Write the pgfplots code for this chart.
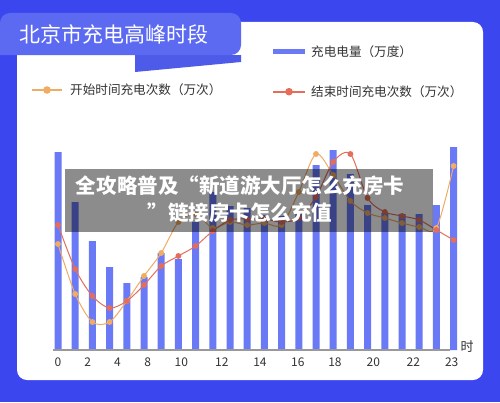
\documentclass[border=0pt]{standalone}
\usepackage{pgfplots}
\pgfplotsset{compat=1.18}
\usepackage{pgfplotstable}
\usepackage{fontspec}
\setmainfont{Noto Sans CJK SC}
\definecolor{bgblue}{RGB}{60,70,238}
\definecolor{tabblue}{RGB}{92,106,242}
\definecolor{tailblue}{RGB}{78,90,232}
\definecolor{barblue}{RGB}{106,122,246}
\definecolor{lorange}{RGB}{240,172,98}
\definecolor{lred}{RGB}{228,110,90}
\definecolor{txt}{RGB}{51,51,51}
\pgfplotstableread{
h bar start end
0 198 106 125
1 148 56 81
2 109 28 54
3 83 28 42
4 67 49 49
5 73 74 65
6 97 97 84
7 91 128 94
8 128 136 104
9 158 122 119
10 144 128 130
11 142 125 131
12 135 127 131
13 134 125 128
14 138 158 132
15 185 196 153
16 200 175 188
17 176 149 196
18 145 137 152
19 137 132 138
20 136 127 134
21 136 123 130
22 145 122 120
23 203 184 110
}\datatable
\begin{document}
\begin{tikzpicture}[x=1bp,y=1bp]
\fill[bgblue] (0,0) rectangle (500,402);
\useasboundingbox (0,0) rectangle (500,402);
% card
\fill[white, rounded corners=10bp] (17,22) rectangle (483,380);
% title tab
\fill[tailblue] (135,347) -- (135,330) -- (241,340) -- (241,347) -- cycle;
\fill[tabblue, rounded corners=10bp] (0,347) -- (241,347) -- (241,389) -- (0,389) [sharp corners] -- cycle;
\node[text=white, font=\fontsize{21bp}{25bp}\selectfont, anchor=west] at (16,368) {北京市充电高峰时段};
% legend
\draw[barblue, line width=5bp] (273,350.3) -- (305,350.3);
\node[anchor=west, text=txt, font=\fontsize{12.6bp}{15bp}\selectfont, inner sep=0] at (311,350.3) {充电电量（万度）};
\draw[lorange, line width=2bp] (32,312) -- (62,312);
\fill[lorange] (47,312) circle (3.8bp);
\node[anchor=west, text=txt, font=\fontsize{12.6bp}{15bp}\selectfont, inner sep=0] at (70,312) {开始时间充电次数（万次）};
\draw[lred, line width=2bp] (273,310.3) -- (305,310.3);
\fill[lred] (289,310.3) circle (3.8bp);
\node[anchor=west, text=txt, font=\fontsize{12.6bp}{15bp}\selectfont, inner sep=0] at (311,310.3) {结束时间充电次数（万次）};
\begin{axis}[
  at={(49.4bp,52bp)}, anchor=south west,
  scale only axis, width=412.8bp, height=220bp,
  xmin=-0.5, xmax=23.5, ymin=0, ymax=220,
  axis line style={draw=none},
  ytick=\empty,
  major tick length=0,
  xtick={0,1.73,3.45,5.22,7.17,9.52,11.74,13.94,16.10,18.33,20.66,22.89},
  xticklabels={0,2,4,8,10,12,14,16,18,20,22,23},
  xticklabel style={font=\fontsize{12bp}{14bp}\selectfont, text=txt, yshift=-4bp},
  /pgf/number format/assume math mode=true,
  clip=false,
]
\addplot[ybar, bar width=7bp, fill=barblue, draw=none] table[x=h, y=bar] {\datatable};
\draw[gray!80, line width=1.2bp] (axis cs:-0.3,0) -- (axis cs:22.8,0);
\addplot[lorange, line width=1bp, smooth, mark=*, mark size=2.4bp, mark options={fill=lorange, draw=none}] table[x=h, y=start] {\datatable};
\addplot[lred, line width=1bp, smooth, mark=*, mark size=2.4bp, mark options={fill=lred, draw=none}] table[x=h, y=end] {\datatable};
\end{axis}
\node[text=txt, font=\fontsize{13bp}{15bp}\selectfont] at (467,55) {时};
% overlay banner
\fill[black, opacity=0.45] (65,170) rectangle (433,233);
\node[text=white, font=\bfseries\fontsize{20.5bp}{27bp}\selectfont, align=center] at (240,202.5) {全攻略普及“新道游大厅怎么充房卡\\”链接房卡怎么充值};
\end{tikzpicture}
\end{document}
